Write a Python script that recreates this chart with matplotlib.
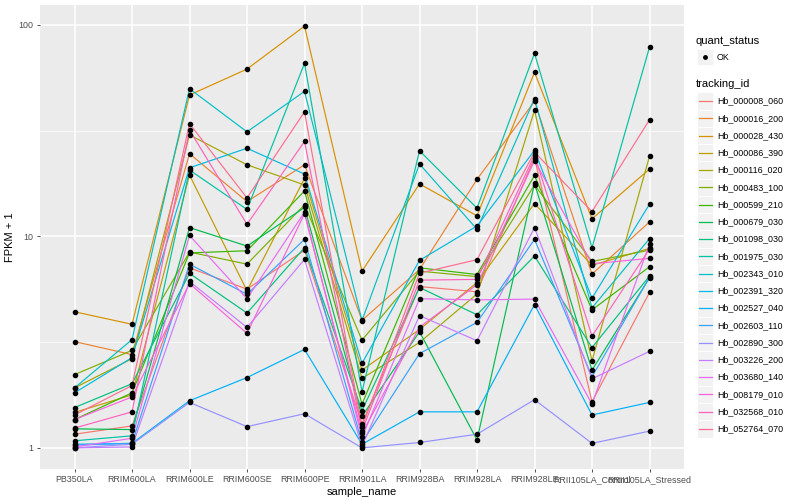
import numpy as np
import matplotlib
matplotlib.use("Agg")
import matplotlib.pyplot as plt
from matplotlib.lines import Line2D
from matplotlib.patches import Rectangle

plt.rcParams['font.family'] = ['Liberation Sans', 'DejaVu Sans']

samples = ['PB350LA', 'RRIM600LA', 'RRIM600LE', 'RRIM600SE', 'RRIM600PE',
           'RRIM901LA', 'RRIM928BA', 'RRIM928LA', 'RRIM928LE',
           'RRII105LA_Control', 'RRII105LA_Stressed']

tracking_ids = ['Hb_000008_060', 'Hb_000016_200', 'Hb_000028_430', 'Hb_000086_390',
                'Hb_000116_020', 'Hb_000483_100', 'Hb_000599_210', 'Hb_000679_030',
                'Hb_001098_030', 'Hb_001975_030', 'Hb_002343_010', 'Hb_002391_320',
                'Hb_002527_040', 'Hb_002603_110', 'Hb_002890_300', 'Hb_003226_200',
                'Hb_003680_140', 'Hb_008179_010', 'Hb_032568_010', 'Hb_052764_070']

# ggplot default hue palette for 20 levels
colors = ['#F8766D', '#EA8331', '#D89000', '#C09B00', '#A3A500', '#7CAE00',
          '#39B600', '#00BB4E', '#00BF7D', '#00C1A3', '#00BFC4', '#00BAE0',
          '#00B0F6', '#35A2FF', '#9590FF', '#C77CFF', '#E76BF3', '#FA62DB',
          '#FF62BC', '#FF6C91']

# FPKM + 1, one row per tracking_id, columns in order of samples
fpkm1 = [
    [1.16, 1.27, 7.1, 5.63, 8.6, 1.3, 5.79, 5.47, 23.5, 1.65, 5.43],
    [3.18, 2.76, 24.6, 14.6, 21.8, 4.01, 6.97, 18.6, 43.5, 6.63, 11.7],
    [4.4, 3.84, 46.6, 61.8, 98.6, 6.85, 17.7, 12.5, 59.7, 12.1, 20.8],
    [1.47, 1.78, 19.5, 5.53, 18.8, 2.33, 3.63, 6.05, 14.3, 7.3, 8.77],
    [1.92, 2.64, 30.2, 21.8, 17.5, 2.13, 3.15, 5.34, 39.4, 2.58, 23.9],
    [2.22, 2.89, 8.43, 7.39, 14.1, 3.23, 6.85, 6.45, 17.5, 7.61, 8.6],
    [1.36, 1.82, 8.35, 8.55, 16.4, 1.61, 7.1, 6.6, 19.4, 4.49, 7.18],
    [1.23, 1.22, 11.0, 9.0, 13.7, 1.41, 3.54, 1.09, 17.8, 2.33, 6.37],
    [1.55, 2.01, 6.68, 4.34, 8.84, 1.50, 5.73, 4.26, 8.07, 2.98, 6.49],
    [1.08, 1.14, 20.6, 13.4, 65.8, 1.84, 25.4, 13.6, 73.4, 8.84, 78.4],
    [1.92, 3.25, 49.9, 31.2, 48.5, 4.0, 22.0, 10.8, 44.8, 4.59, 9.75],
    [1.82, 2.67, 21.1, 26.1, 19.7, 2.51, 7.7, 11.2, 25.5, 5.1, 14.2],
    [1.04, 1.05, 1.67, 2.15, 2.92, 1.04, 1.48, 1.48, 4.76, 1.43, 1.64],
    [1.03, 1.05, 7.39, 5.32, 9.68, 1.06, 2.79, 3.92, 9.68, 2.17, 6.4],
    [1.0, 1.04, 1.64, 1.26, 1.45, 1.0, 1.06, 1.16, 1.69, 1.05, 1.20],
    [1.0, 1.01, 6.12, 3.71, 7.78, 1.02, 4.22, 3.21, 11.0, 2.12, 2.86],
    [1.01, 1.11, 10.1, 5.07, 13.0, 1.12, 5.07, 5.01, 5.05, 1.61, 9.2],
    [1.36, 1.74, 5.98, 3.48, 12.8, 1.17, 3.72, 5.91, 22.8, 7.42, 7.87],
    [1.24, 1.48, 31.8, 11.4, 28.1, 1.20, 6.21, 6.26, 24.2, 3.38, 8.7],
    [1.43, 1.97, 34.1, 15.2, 38.8, 1.25, 6.7, 7.76, 25.0, 13.1, 35.6],
]

fig = plt.figure(figsize=(8, 5), dpi=100)
ax = fig.add_axes([40/800, 31/500, 644/800, 464/500])
ax.set_facecolor('#EBEBEB')

x = np.arange(1, len(samples) + 1)
for i, tid in enumerate(tracking_ids):
    ax.plot(x, fpkm1[i], color=colors[i], lw=0.85, zorder=2)
for i, tid in enumerate(tracking_ids):
    ax.plot(x, fpkm1[i], 'o', color='black', ms=3.0, zorder=3, lw=0)

ax.set_yscale('log')
ax.set_ylim(10**-0.1, 10**2.094)
ax.set_xlim(0.4, len(samples) + 0.6)
ax.set_xticks(x)
ax.set_xticklabels(samples)
ax.set_yticks([1, 10, 100])
ax.set_yticklabels(['1', '10', '100'])
ax.set_yticks([10**0.5, 10**1.5], minor=True)
ax.yaxis.set_minor_formatter(plt.NullFormatter())
ax.grid(which='major', color='white', lw=1.1)
ax.grid(which='minor', axis='y', color='white', lw=0.5)
ax.set_axisbelow(True)
for s in ax.spines.values():
    s.set_visible(False)
ax.tick_params(which='major', length=2.5, width=0.6, color='#333333',
               labelsize=6.4, labelcolor='#4D4D4D', pad=2)
ax.tick_params(which='minor', length=0)
ax.set_xlabel('sample_name', fontsize=8, labelpad=2)
ax.set_ylabel('FPKM + 1', fontsize=8, labelpad=3)

# legends, drawn by hand in ggplot style
def fx(px):
    return px / 800

def fy(py):
    return 1 - py / 500

fig.text(fx(696), fy(41), 'quant_status', fontsize=8, va='center')
fig.patches.append(Rectangle((fx(697), fy(65)), 16/800, 16/500, transform=fig.transFigure,
                             facecolor='#F2F2F2', edgecolor='white', lw=0.5))
fig.lines.append(Line2D([fx(705)], [fy(57)], marker='o', color='black', ms=2.5,
                        transform=fig.transFigure))
fig.text(fx(717), fy(57), 'OK', fontsize=6.4, va='center')

fig.text(fx(696), fy(84), 'tracking_id', fontsize=8, va='center')
step = 17.26
for i, tid in enumerate(tracking_ids):
    cy = 101 + i * step
    fig.patches.append(Rectangle((fx(697), fy(cy + step/2)), 16/800, step/500,
                                 transform=fig.transFigure, facecolor='#F2F2F2',
                                 edgecolor='white', lw=0.6))
    fig.lines.append(Line2D([fx(699), fx(712)], [fy(cy), fy(cy)], color=colors[i],
                            lw=0.9, transform=fig.transFigure))
    fig.text(fx(717), fy(cy), tid, fontsize=6.4, va='center')

fig.savefig('out.png', dpi=100)
